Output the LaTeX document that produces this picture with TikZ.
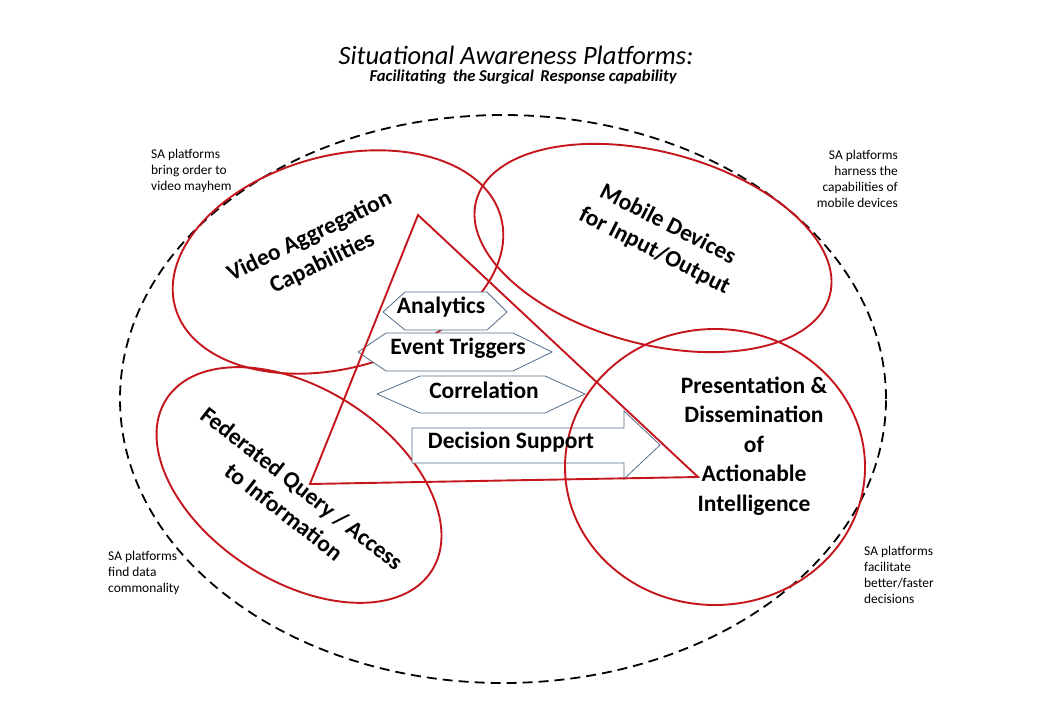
\documentclass[tikz,border=0pt]{standalone}
\usepackage{fontspec}
\setmainfont{Carlito}
\definecolor{redline}{RGB}{196,22,28}
\definecolor{hexline}{RGB}{84,110,140}
\tikzset{
  redshape/.style={draw=redline, line width=1.9pt},
  outerdash/.style={draw=black, line width=1.8pt, dash pattern=on 10pt off 6pt},
  hexbox/.style={draw=hexline, line width=0.8pt, fill=white, line join=miter},
  biglabel/.style={font=\bfseries\fontsize{23.5}{29.5}\selectfont, align=center, inner sep=0pt},
  hextext/.style={font=\bfseries\fontsize{23.5}{26}\selectfont, inner sep=0pt},
  notetext/.style={font=\fontsize{13.4}{15.8}\selectfont, inner sep=0pt},
}
\begin{document}
\begin{tikzpicture}[x=1pt,y=-1pt]
\fill[white] (0,0) rectangle (1056,720);
\useasboundingbox (0,0) rectangle (1056,720);

% outer dashed ellipse
\draw[outerdash] (503,399) ellipse [x radius=383pt, y radius=284pt];

% red ellipses (under the hexagons)
\draw[redshape, shift={(338,262)}, rotate=15.5] (0,0) ellipse [x radius=169pt, y radius=106pt];
\draw[redshape, shift={(653,248)}, rotate=-15] (0,0) ellipse [x radius=183pt, y radius=96pt];
\draw[redshape, shift={(299,485)}, rotate=-33] (0,0) ellipse [x radius=158pt, y radius=96pt];

% hexagons and arrow
\draw[hexbox] (383,312) -- (405,292) -- (487,292) -- (507,312) -- (487,330) -- (405,330) -- cycle;
\draw[hexbox] (358,352) -- (386,333) -- (513,333) -- (552,352) -- (513,371) -- (386,371) -- cycle;
\draw[hexbox] (377,394) -- (420,376) -- (545,376) -- (585,394) -- (545,413) -- (420,413) -- cycle;
\draw[hexbox] (412,428) -- (624,428) -- (624,411) -- (660,445) -- (624,479) -- (624,463) -- (412,463) -- cycle;

% triangle and presentation ellipse (on top)
\coordinate (tA) at (418,215);
\coordinate (tB) at (310,484);
\coordinate (tC) at (698,477);
\draw[redshape, line join=miter] (tA) -- (tB) -- (tC) -- cycle;
\draw[redshape] (715,467) ellipse [x radius=150pt, y radius=138pt];

% titles
\node[inner sep=0pt, font=\itshape\fontsize{26.5}{30}\selectfont] (title) at (516,55) {Situational Awareness Platforms:};
\node[inner sep=0pt, font=\bfseries\itshape\fontsize{16.6}{19}\selectfont] (subtitle) at (523,77) {Facilitating\, the Surgical\, Response capability};

% notes
\node[notetext, anchor=west, align=left] (n1) at (151,171) {SA platforms\\bring order to\\video mayhem};
\node[notetext, anchor=east, align=right] (n2) at (898,179) {SA platforms\\harness the\\capabilities of\\mobile devices};
\node[notetext, anchor=west, align=left] (n3) at (108,573) {SA platforms\\find data\\commonality};
\node[notetext, anchor=west, align=left] (n4) at (864,575) {SA platforms\\facilitate\\better/faster\\decisions};

% big labels
\node[biglabel, rotate=26] (video) at (316,250) {Video Aggregation\\Capabilities};
\node[biglabel, rotate=-27] (mobile) at (661,238) {Mobile Devices\\for Input/Output};
\node[biglabel, rotate=-38] (fed) at (293,500) {Federated Query / Access\\to Information};
\node[biglabel] (pres) at (754,446) {Presentation \&\\Dissemination\\of\\Actionable\\Intelligence};

% hexagon texts
\node[hextext] (analytics) at (441,307) {Analytics};
\node[hextext] (events) at (458,348) {Event Triggers};
\node[hextext] (corr) at (484,390) {Correlation};
\node[hextext] (decision) at (511,442) {Decision Support};
\end{tikzpicture}
\end{document}
